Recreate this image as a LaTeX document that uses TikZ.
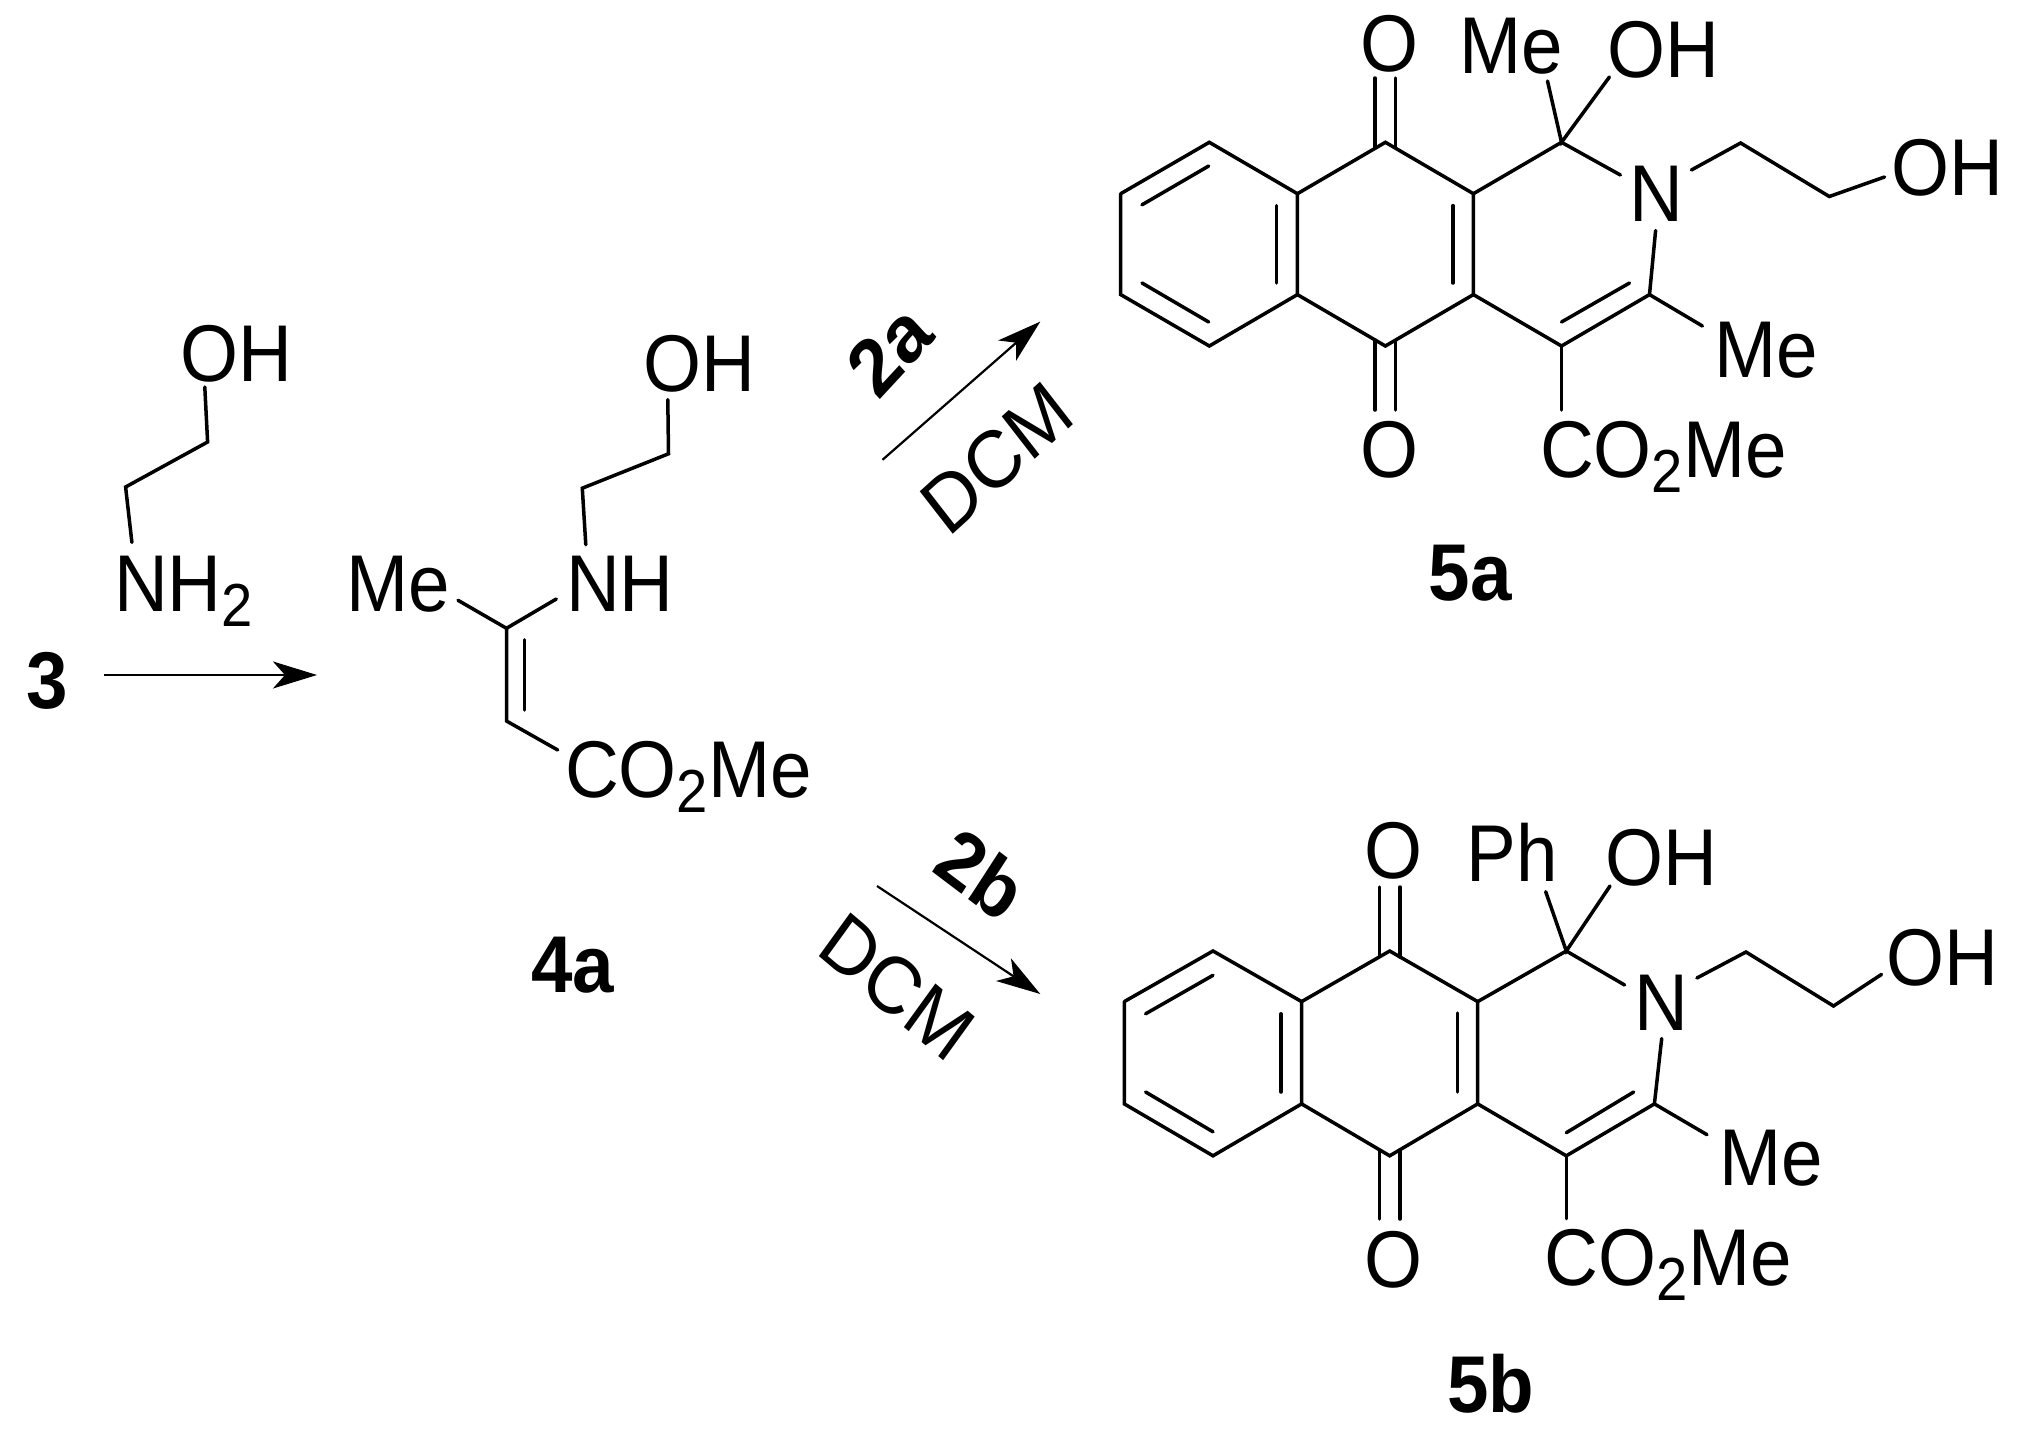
\documentclass[tikz,border=0pt]{standalone}
\usepackage{fontspec}
\setmainfont{Liberation Sans}
\usetikzlibrary{arrows.meta}
\newcommand{\subtwo}{\raisebox{-0.14cm}{\fontsize{16}{16}\selectfont 2}}
\tikzset{
	atomlabel/.style={font=\fontsize{21.2}{25}\selectfont, inner sep=0pt, anchor=base, yshift=-0.02cm, yscale=1.08},
	complabel/.style={font=\fontsize{21.2}{25}\selectfont\bfseries, inner sep=0pt, anchor=base, yshift=-0.02cm, yscale=1.08},
	bond/.style={line width=0.035cm, line cap=round},
	reaction/.style={line width=0.022cm, -{Stealth[length=0.44cm,width=0.27cm,inset=0.12cm]}}
}
\begin{document}
\begin{tikzpicture}[x=0.01cm,y=-0.01cm]
	\useasboundingbox (0,0) rectangle (2032,1436);

	%%% Амин и стрелка

	\node[complabel] (lab3) at (47,706) {3};
	\node[atomlabel] (amOH) at (236,379) {OH};
	\node[atomlabel] (amNH) at (183.5,609) {NH\subtwo};

	\coordinate (am1) at (204.8,387);
	\coordinate (am2) at (207.6,442);
	\coordinate (am3) at (125.6,487);
	\coordinate (am4) at (131.9,542.4);
	\draw[bond] (am1) -- (am2) -- (am3) -- (am4);

	\coordinate (arA1) at (103.8,675);
	\coordinate (arA2) at (317,675);
	\draw[reaction] (arA1) -- (arA2);

	%%% Соединение 4a

	\node[atomlabel] (enOH) at (699.4,389) {OH};
	\node[atomlabel] (enMe) at (398,609) {Me};
	\node[atomlabel] (enNH) at (620,609) {NH};
	\node[atomlabel] (enEs) at (688.4,795) {CO\subtwo Me};
	\node[complabel] (lab4a) at (573,990) {4a};

	\coordinate (en1) at (667.8,399.6);
	\coordinate (en2) at (668.5,453.8);
	\coordinate (en3) at (582.3,488.2);
	\coordinate (en4) at (585.8,544.7);
	\coordinate (en5) at (458,600.3);
	\coordinate (en6) at (506.5,628.3);
	\coordinate (en7) at (556.3,599);
	\coordinate (en8) at (506.5,721);
	\coordinate (en9) at (557.7,750);
	\coordinate (en10) at (524.7,639.8);
	\coordinate (en11) at (524.7,710);
	\draw[bond] (en1) -- (en2) -- (en3) -- (en4);
	\draw[bond] (en5) -- (en6) -- (en7);
	\draw[bond] (en6) -- (en8) -- (en9);
	\draw[bond] (en10) -- (en11);

	%%% Стрелки к 5a и 5b

	\coordinate (arB1) at (882.5,459.8);
	\coordinate (arB2) at (1040.3,321.6);
	\draw[reaction] (arB1) -- (arB2);
	\node[complabel,anchor=center,rotate=45] (lab2a) at (889.5,348) {2a};
	\node[atomlabel,anchor=center,rotate=40] (dcmA) at (997,456) {DCM};

	\coordinate (arC1) at (877,886);
	\coordinate (arC2) at (1040.3,994);
	\draw[reaction] (arC1) -- (arC2);
	\node[complabel,anchor=center,rotate=-35] (lab2b) at (981,872) {2b};
	\node[atomlabel,anchor=center,rotate=-38] (dcmB) at (897,985) {DCM};

	%%% Соединение 5a

	\node[atomlabel] (aO1) at (1389.7,69) {O};
	\node[atomlabel] (aO2) at (1389.7,475) {O};
	\node[atomlabel] (aMe1) at (1511,71) {Me};
	\node[atomlabel] (aOH1) at (1663,75) {OH};
	\node[atomlabel] (aN) at (1656.8,219) {N};
	\node[atomlabel] (aOH2) at (1947,193) {OH};
	\node[atomlabel] (aMe2) at (1766,375) {Me};
	\node[atomlabel] (aEs) at (1663.5,475) {CO\subtwo Me};
	\node[complabel] (lab5a) at (1470.4,598) {5a};

	\coordinate (a1) at (1120.7,193.7);
	\coordinate (a2) at (1209.3,142.3);
	\coordinate (a3) at (1297.4,193.7);
	\coordinate (a4) at (1297.4,294.6);
	\coordinate (a5) at (1209.3,346);
	\coordinate (a6) at (1120.7,294.6);
	\coordinate (a7) at (1385.4,142.3);
	\coordinate (a8) at (1473.4,193.7);
	\coordinate (a9) at (1473.4,294.6);
	\coordinate (a10) at (1385.4,346);
	\coordinate (a11) at (1561.5,142.3);
	\coordinate (a12) at (1649.5,294.6);
	\coordinate (a13) at (1561.5,346);
	\draw[bond] (a1) -- (a2) -- (a3) -- (a4) -- (a5) -- (a6) -- (a1);
	\draw[bond] (a3) -- (a7) -- (a8) -- (a9) -- (a10) -- (a4);
	\draw[bond] (a8) -- (a11);
	\draw[bond] (a9) -- (a13) -- (a12);

	% Внутренние линии двойных связей
	\coordinate (ad1) at (1142,204.8);
	\coordinate (ad2) at (1208.7,166);
	\coordinate (ad3) at (1142,283);
	\coordinate (ad4) at (1208.7,322);
	\coordinate (ad5) at (1276.7,205.6);
	\coordinate (ad6) at (1276.7,283);
	\coordinate (ad7) at (1452.8,205.6);
	\coordinate (ad8) at (1452.8,283);
	\coordinate (ad9) at (1561.5,322);
	\coordinate (ad10) at (1629.5,283);
	\draw[bond] (ad1) -- (ad2);
	\draw[bond] (ad3) -- (ad4);
	\draw[bond] (ad5) -- (ad6);
	\draw[bond] (ad7) -- (ad8);
	\draw[bond] (ad9) -- (ad10);

	% Карбонилы
	\coordinate (ao1) at (1375,78);
	\coordinate (ao2) at (1375,148);
	\coordinate (ao3) at (1395.7,78);
	\coordinate (ao4) at (1395.7,148);
	\coordinate (ao5) at (1375,340);
	\coordinate (ao6) at (1375,410);
	\coordinate (ao7) at (1395.7,340);
	\coordinate (ao8) at (1395.7,410);
	\draw[bond] (ao1) -- (ao2);
	\draw[bond] (ao3) -- (ao4);
	\draw[bond] (ao5) -- (ao6);
	\draw[bond] (ao7) -- (ao8);

	% Заместители
	\coordinate (as1) at (1547.5,81);
	\coordinate (as2) at (1609.4,77);
	\coordinate (as3) at (1620.4,175);
	\coordinate (as4) at (1691.4,170);
	\coordinate (as5) at (1740.6,143);
	\coordinate (as6) at (1829.3,196.5);
	\coordinate (as7) at (1884.5,177);
	\coordinate (as8) at (1655.6,230.5);
	\coordinate (as9) at (1702.4,326);
	\coordinate (as10) at (1561.5,410);
	\draw[bond] (as1) -- (a11) -- (as2);
	\draw[bond] (a11) -- (as3);
	\draw[bond] (as4) -- (as5) -- (as6) -- (as7);
	\draw[bond] (as8) -- (a12) -- (as9);
	\draw[bond] (a13) -- (as10);

	%%% Соединение 5b

	\node[atomlabel] (bO1) at (1393.3,876) {O};
	\node[atomlabel] (bO2) at (1393.3,1285) {O};
	\node[atomlabel] (bPh) at (1512.3,879) {Ph};
	\node[atomlabel] (bOH1) at (1661,883) {OH};
	\node[atomlabel] (bN) at (1661.7,1028) {N};
	\node[atomlabel] (bOH2) at (1942,983) {OH};
	\node[atomlabel] (bMe) at (1771,1183) {Me};
	\node[atomlabel] (bEs) at (1668.3,1283) {CO\subtwo Me};
	\node[complabel] (lab5b) at (1491,1410) {5b};

	\coordinate (b1) at (1124.3,1001.6);
	\coordinate (b2) at (1213,951);
	\coordinate (b3) at (1301.6,1001.6);
	\coordinate (b4) at (1301.6,1103.9);
	\coordinate (b5) at (1213,1155.8);
	\coordinate (b6) at (1124.3,1103.9);
	\coordinate (b7) at (1389.7,951);
	\coordinate (b8) at (1477.7,1001.6);
	\coordinate (b9) at (1477.7,1103.9);
	\coordinate (b10) at (1389.7,1155.8);
	\coordinate (b11) at (1566.3,951);
	\coordinate (b12) at (1654.4,1103.9);
	\coordinate (b13) at (1566.3,1155.8);
	\draw[bond] (b1) -- (b2) -- (b3) -- (b4) -- (b5) -- (b6) -- (b1);
	\draw[bond] (b3) -- (b7) -- (b8) -- (b9) -- (b10) -- (b4);
	\draw[bond] (b8) -- (b11);
	\draw[bond] (b9) -- (b13) -- (b12);

	% Внутренние линии двойных связей
	\coordinate (bd1) at (1145.6,1013.8);
	\coordinate (bd2) at (1213,975.3);
	\coordinate (bd3) at (1145.6,1092);
	\coordinate (bd4) at (1213,1131.8);
	\coordinate (bd5) at (1281,1013.8);
	\coordinate (bd6) at (1281,1092);
	\coordinate (bd7) at (1457.7,1013);
	\coordinate (bd8) at (1457.7,1092);
	\coordinate (bd9) at (1566.3,1132.7);
	\coordinate (bd10) at (1633.7,1092);
	\draw[bond] (bd1) -- (bd2);
	\draw[bond] (bd3) -- (bd4);
	\draw[bond] (bd5) -- (bd6);
	\draw[bond] (bd7) -- (bd8);
	\draw[bond] (bd9) -- (bd10);

	% Карбонилы
	\coordinate (bo1) at (1379.3,887);
	\coordinate (bo2) at (1379.3,957);
	\coordinate (bo3) at (1400,887);
	\coordinate (bo4) at (1400,957);
	\coordinate (bo5) at (1379.3,1150);
	\coordinate (bo6) at (1379.3,1219);
	\coordinate (bo7) at (1400,1150);
	\coordinate (bo8) at (1400,1219);
	\draw[bond] (bo1) -- (bo2);
	\draw[bond] (bo3) -- (bo4);
	\draw[bond] (bo5) -- (bo6);
	\draw[bond] (bo7) -- (bo8);

	% Заместители
	\coordinate (bs1) at (1545.7,891.7);
	\coordinate (bs2) at (1610,886);
	\coordinate (bs3) at (1624.6,985);
	\coordinate (bs4) at (1696.9,978);
	\coordinate (bs5) at (1746,952);
	\coordinate (bs6) at (1833.5,1006);
	\coordinate (bs7) at (1881.5,974.4);
	\coordinate (bs8) at (1661.7,1038.5);
	\coordinate (bs9) at (1707,1134.7);
	\coordinate (bs10) at (1566.3,1218.7);
	\draw[bond] (bs1) -- (b11) -- (bs2);
	\draw[bond] (b11) -- (bs3);
	\draw[bond] (bs4) -- (bs5) -- (bs6) -- (bs7);
	\draw[bond] (bs8) -- (b12) -- (bs9);
	\draw[bond] (b13) -- (bs10);
\end{tikzpicture}
\end{document}
